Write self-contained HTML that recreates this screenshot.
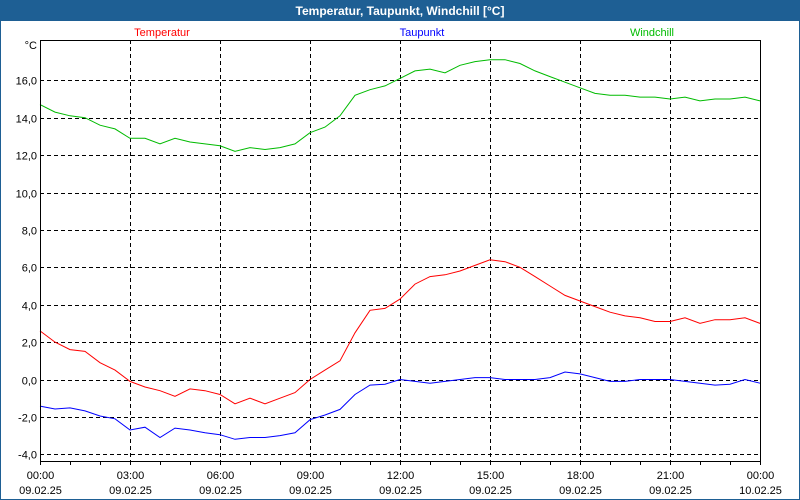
<!DOCTYPE html>
<html><head><meta charset="utf-8"><style>
body{margin:0;background:#fff;}
svg{display:block;font-family:"Liberation Sans","DejaVu Sans",sans-serif;}
</style></head><body>
<svg id="chart" width="800" height="500" viewBox="0 0 800 500">
<rect x="0" y="0" width="800" height="500" fill="#fff" stroke="#1e5f94" stroke-width="2"/>
<rect x="0" y="0" width="800" height="21" fill="#1e5f94"/>
<text x="400" y="15" text-anchor="middle" font-size="12" font-weight="bold" fill="#fff">Temperatur, Taupunkt, Windchill [°C]</text>
<text x="162" y="36" text-anchor="middle" font-size="11" fill="#f00">Temperatur</text>
<text x="422" y="36" text-anchor="middle" font-size="11" fill="#00f">Taupunkt</text>
<text x="652" y="36" text-anchor="middle" font-size="11" fill="#0b0">Windchill</text>
<text x="37" y="49" text-anchor="end" font-size="11" fill="#000">°C</text>
<g id="grid"></g><g id="series"></g><g id="axes"></g>
</svg>
<script>
const yTicks=[16,14,12,10,8,6,4,2,0,-2,-4];
const yTickLabels=["16,0","14,0","12,0","10,0","8,0","6,0","4,0","2,0","0,0","-2,0","-4,0"];
const xTickHours=[0,3,6,9,12,15,18,21,24];
const xTickTimes=["00:00","03:00","06:00","09:00","12:00","15:00","18:00","21:00","00:00"];
const xTickDates=["09.02.25","09.02.25","09.02.25","09.02.25","09.02.25","09.02.25","09.02.25","09.02.25","10.02.25"];
const temperatur=[2.6,2.0,1.6,1.5,0.9,0.5,-0.1,-0.4,-0.6,-0.9,-0.5,-0.6,-0.8,-1.3,-1.0,-1.3,-1.0,-0.7,0.0,0.5,1.0,2.5,3.7,3.8,4.3,5.1,5.5,5.6,5.8,6.1,6.4,6.3,6.0,5.5,5.0,4.5,4.2,3.9,3.6,3.4,3.3,3.1,3.1,3.3,3.0,3.2,3.2,3.3,3.0];
const taupunkt=[-1.42,-1.58,-1.52,-1.68,-1.95,-2.1,-2.7,-2.55,-3.1,-2.6,-2.7,-2.85,-2.95,-3.2,-3.1,-3.1,-3.0,-2.85,-2.15,-1.9,-1.6,-0.8,-0.3,-0.25,0,-0.1,-0.2,-0.1,0,0.1,0.1,0,0,0,0.1,0.4,0.3,0.1,-0.1,-0.1,0,0,0,-0.1,-0.2,-0.3,-0.25,0,-0.2];
const windchill=[14.7,14.3,14.1,14.0,13.6,13.4,12.9,12.9,12.6,12.9,12.7,12.6,12.5,12.2,12.4,12.3,12.4,12.6,13.2,13.5,14.1,15.2,15.5,15.7,16.1,16.5,16.6,16.4,16.8,17.0,17.1,17.1,16.9,16.5,16.2,15.9,15.6,15.3,15.2,15.2,15.1,15.1,15.0,15.1,14.9,15.0,15.0,15.1,14.9];
const L=40,R=760,T=40,B=461;
const xs=h=>L+(R-L)*h/24;
const ys=v=>379.5-v*18.7;
const NS="http://www.w3.org/2000/svg";
function mk(tag,parent,attrs){const e=document.createElementNS(NS,tag);for(const k in attrs)e.setAttribute(k,attrs[k]);document.getElementById(parent).appendChild(e);return e;}
yTicks.forEach((v,i)=>{
 const y=Math.round(ys(v))+0.5;
 const g=mk('line','grid',{x1:L,x2:R,y1:y,y2:y,stroke:'#000','stroke-dasharray':'4,3','stroke-width':1});
 
 
 const t=mk('text','axes',{x:37,y:y+4,'text-anchor':'end','font-size':11,fill:'#000'});
 t.textContent=yTickLabels[i];
 
 
});
xTickHours.forEach((h,i)=>{
 const x=Math.round(xs(h))+0.5;
 if(h>0&&h<24){const g=mk('line','grid',{x1:x,x2:x,y1:T,y2:B,stroke:'#000','stroke-dasharray':'4,3'});
 
 }
 const t1=mk('text','axes',{x:x,y:479,'text-anchor':'middle','font-size':11,fill:'#000'});
 t1.textContent=xTickTimes[i];
 
 
 const t2=mk('text','axes',{x:x,y:494,'text-anchor':'middle','font-size':11,fill:'#000'});
 t2.textContent=xTickDates[i];
 
 
});
for(let h=0;h<=24;h++){const x=Math.round(xs(h))+0.5;
 const m=mk('line','axes',{x1:x,x2:x,y1:B,y2:B+4,stroke:'#000'});
 
 }
const fr=mk('rect','axes',{x:L+0.5,y:T+0.5,width:R-L,height:B-T,fill:'none',stroke:'#000','stroke-width':1});


function line(data,color,name){
 const n=data.length-1;
 const pts=data.map((v,i)=>xs(24*i/n).toFixed(1)+','+ys(v).toFixed(1)).join(' ');
 const p=mk('polyline','series',{points:pts,fill:'none',stroke:color,'stroke-width':1});
 
 
}
line(windchill,'#0b0','windchill-line');
line(temperatur,'#f00','temperatur-line');
line(taupunkt,'#00f','taupunkt-line');
</script>
</body></html>
